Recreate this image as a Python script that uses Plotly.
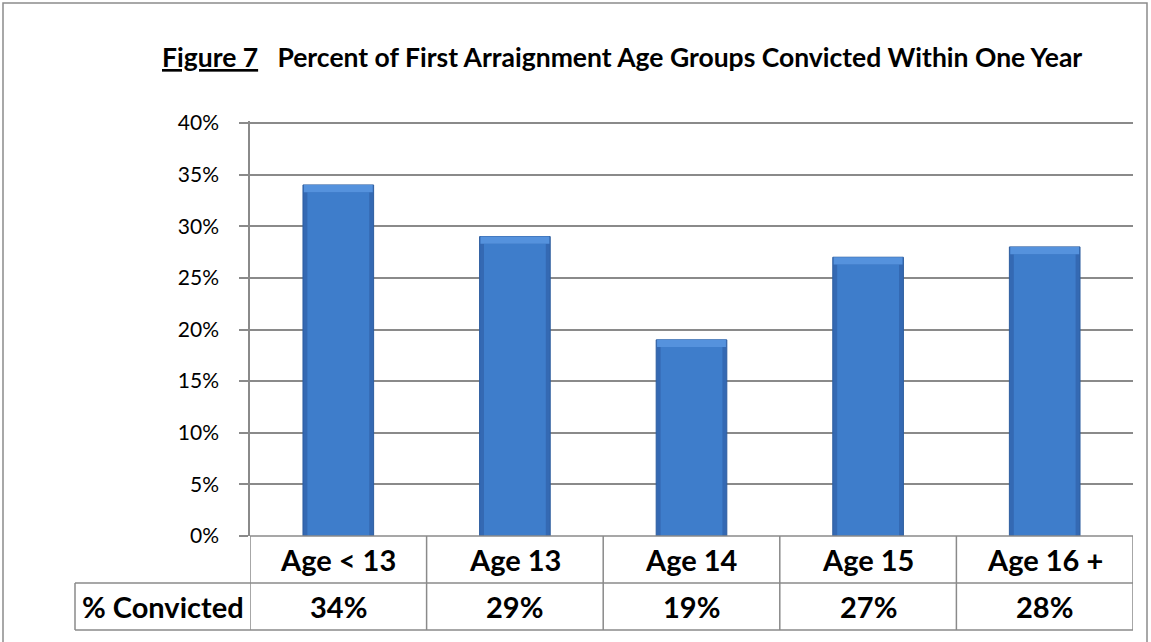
import plotly.graph_objects as go

categories = ["Age < 13", "Age 13", "Age 14", "Age 15", "Age 16 +"]
pct_convicted = [34, 29, 19, 27, 28]
row_label = "% Convicted"
y_ticks = [0, 5, 10, 15, 20, 25, 30, 35, 40]
title_lead = "Figure 7"
title_text = "Percent of First Arraignment Age Groups Convicted Within One Year"

FONT = "Lato"
W, H = 1151, 642
# plot area in page pixels: x 250..1133, y 123..536
L, T = 250, 121
R = W - 1133
B = H - 536
PW, PH = W - L - R, H - T - B
YMAX = 40 * PH / (536 - 123)
GRID = "#8a8a8a"
BEVEL = 0.7  # height of top highlight strip, in axis units

def px_x(p):
    return (p - L) / PW

def px_y(p):
    return (H - B - p) / PH

xs = list(range(len(categories)))
fig = go.Figure()
# outer (darker edge) bar
fig.add_trace(go.Bar(
    x=xs, y=pct_convicted, width=0.4,
    marker=dict(color="#3469b3", line=dict(color="#2d5d9f", width=1)),
    hoverinfo="skip", showlegend=False,
))
# lighter face
fig.add_trace(go.Bar(
    x=xs, y=[v - BEVEL for v in pct_convicted], width=0.35,
    marker=dict(color="#3e7dcb", line=dict(width=0)),
    hoverinfo="skip", showlegend=False,
))
# top bevel highlight
fig.add_trace(go.Bar(
    x=xs, y=[BEVEL] * len(xs), base=[v - BEVEL for v in pct_convicted], width=0.39,
    marker=dict(color="#5592dd", line=dict(width=0)),
    hoverinfo="skip", showlegend=False,
))

shapes = []
n = len(categories)
for i in range(n + 1):
    shapes.append(dict(type="line", xref="x", yref="paper", x0=i - 0.5, x1=i - 0.5,
                       y0=0, y1=px_y(630), line=dict(color=GRID, width=1.5)))
for yy in (583, 630):
    shapes.append(dict(type="line", xref="paper", yref="paper", x0=px_x(75), x1=1,
                       y0=px_y(yy), y1=px_y(yy), line=dict(color=GRID, width=1.5)))
shapes.append(dict(type="line", xref="paper", yref="paper", x0=px_x(75), x1=px_x(75),
                   y0=px_y(583), y1=px_y(630), line=dict(color=GRID, width=1.5)))
shapes.append(dict(type="line", xref="paper", yref="paper", x0=0, x1=1,
                   y0=0, y1=0, line=dict(color=GRID, width=1.5)))
# outer chart border
shapes.append(dict(type="rect", xref="paper", yref="paper", x0=px_x(3), x1=px_x(1147),
                   y0=px_y(660), y1=px_y(3), line=dict(color="#8c8c8c", width=1.5),
                   fillcolor="rgba(0,0,0,0)", layer="below"))

annotations = []
for i, (c, v) in enumerate(zip(categories, pct_convicted)):
    annotations.append(dict(x=i, xref="x", y=px_y(559.5), yref="paper", text=f"<b>{c}</b>",
                            showarrow=False, xanchor="center", yanchor="middle",
                            font=dict(family=FONT, size=29, color="#000")))
    annotations.append(dict(x=i, xref="x", y=px_y(606.5), yref="paper", text=f"<b>{v}%</b>",
                            showarrow=False, xanchor="center", yanchor="middle",
                            font=dict(family=FONT, size=29, color="#000")))
annotations.append(dict(x=px_x(80), xref="paper", y=px_y(606.5), yref="paper",
                        text=f"<b>{row_label}</b>", showarrow=False, xanchor="left",
                        yanchor="middle", font=dict(family=FONT, size=29, color="#000")))
annotations.append(dict(x=px_x(622), xref="paper", y=px_y(57), yref="paper",
                        text=f"<b><u>{title_lead}</u>&nbsp;&nbsp;&nbsp;{title_text}</b>",
                        showarrow=False, xanchor="center", yanchor="middle",
                        font=dict(family=FONT, size=26.5, color="#000")))

fig.update_layout(
    width=W, height=H, margin=dict(l=L, r=R, t=T, b=B),
    paper_bgcolor="white", plot_bgcolor="white", barmode="overlay",
    shapes=shapes, annotations=annotations,
    xaxis=dict(range=[-0.5, n - 0.5], showticklabels=False, showgrid=False,
               zeroline=False, showline=False, ticks=""),
    yaxis=dict(range=[0, YMAX], tickvals=y_ticks, ticktext=[f"{t}%" for t in y_ticks],
               showgrid=True, gridcolor=GRID, gridwidth=1.5, zeroline=False,
               showline=True, linecolor=GRID, linewidth=1.5,
               ticks="outside", ticklen=9, tickcolor=GRID, tickwidth=1.5,
               ticklabelstandoff=16,
               tickfont=dict(family=FONT, size=21, color="#000")),
)
fig.write_html("out.html", config={"displayModeBar": False},
               post_script="document.body.style.margin='0';")
